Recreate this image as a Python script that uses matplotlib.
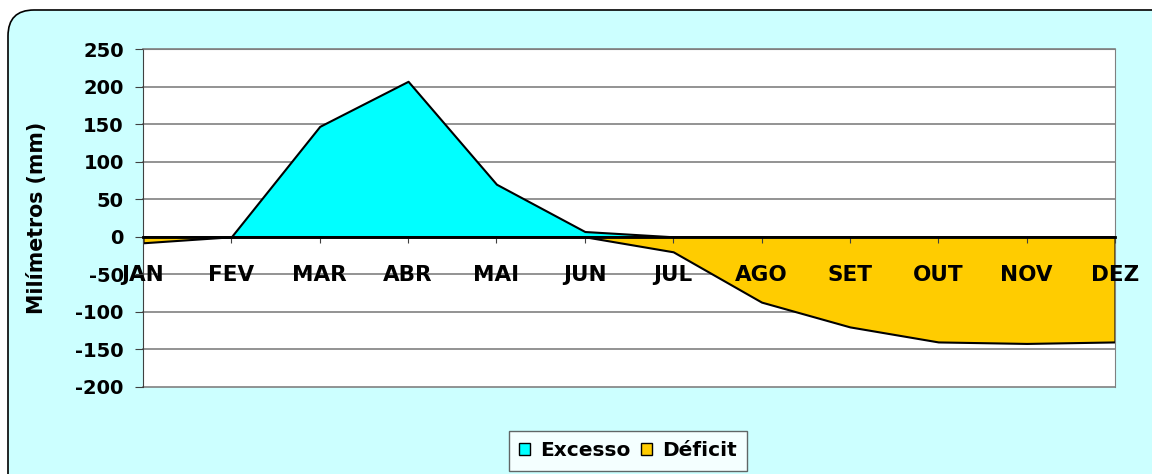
import matplotlib.pyplot as plt
from matplotlib.patches import FancyBboxPatch

# dados mensais (mm)
meses = ["JAN", "FEV", "MAR", "ABR", "MAI", "JUN", "JUL", "AGO", "SET", "OUT", "NOV", "DEZ"]
excesso = [0, 0, 147, 207, 70, 7, 0, 0, 0, 0, 0, 0]
deficit = [-8, 0, 0, 0, 0, 0, -20, -87, -120, -140, -142, -140]
y_ticks = [250, 200, 150, 100, 50, 0, -50, -100, -150, -200]

plt.rcParams['font.family'] = ['DejaVu Sans']
plt.rcParams['font.weight'] = 'bold'

fig = plt.figure(figsize=(11.52, 4.74), dpi=100, facecolor='white')

# moldura arredondada do grafico (pixels)
moldura = FancyBboxPatch((8, -40), 1200, 504, boxstyle="round,pad=0,rounding_size=26",
                         transform=None, facecolor='#ccffff', edgecolor='black', linewidth=1.2,
                         zorder=-10)
fig.patches.append(moldura)

ax = fig.add_axes([143 / 1152, 1 - 387 / 474, 972 / 1152, 338 / 474])
ax.set_zorder(5)
ax.set_facecolor('white')

x = list(range(len(meses)))
ax.fill_between(x, 0, excesso, facecolor='#00ffff', edgecolor='black', linewidth=1.5, zorder=2)
ax.fill_between(x, 0, deficit, facecolor='#ffcc00', edgecolor='black', linewidth=1.5, zorder=2)

ax.set_xlim(0, 11)
ax.set_ylim(-200, 250)
ax.set_yticks(y_ticks)
ax.set_yticklabels([str(v) for v in y_ticks], fontsize=14, fontweight='bold')
# linhas de grade por baixo das areas
for v in y_ticks:
    ax.axhline(v, color='#808080', linewidth=1.2, zorder=1, clip_on=False)
ax.set_axisbelow(False)

# eixo x cruzando em zero
ax.spines['bottom'].set_position(('data', 0))
ax.spines['bottom'].set_linewidth(2)
ax.spines['bottom'].set_zorder(4)
ax.set_xticks(x)
ax.set_xticklabels(meses, fontsize=15.5, fontweight='bold')
ax.tick_params(axis='x', direction='out', length=4, width=0.8, color='#404040', pad=16)
ax.tick_params(axis='y', direction='out', length=5.8, width=0.8, color='#404040', pad=8)
ax.spines['left'].set_color('#404040')
ax.spines['top'].set_color('#808080')
ax.spines['right'].set_color('#808080')

ax.set_ylabel("Milímetros (mm)", fontsize=14.8, fontweight='bold')
ax.yaxis.set_label_coords((47 - 143) / 972, 0.5)

leg = fig.legend(handles=[plt.Rectangle((0, 0), 1, 1, facecolor='#00ffff', edgecolor='black'),
                          plt.Rectangle((0, 0), 1, 1, facecolor='#ffcc00', edgecolor='black')],
                 labels=["Excesso", "Déficit"], loc='center', bbox_to_anchor=(628 / 1152, 1 - 451 / 474),
                 ncol=2, frameon=True, fancybox=False, fontsize=14.5, handlelength=0.55, handleheight=0.55,
                 handletextpad=0.5, columnspacing=0.5, borderpad=0.5, borderaxespad=0)
leg.get_frame().set_edgecolor('#404040')
leg.get_frame().set_linewidth(1)
for t in leg.get_texts():
    t.set_fontweight('bold')

fig.savefig("out.png", dpi=100, facecolor=fig.get_facecolor())
